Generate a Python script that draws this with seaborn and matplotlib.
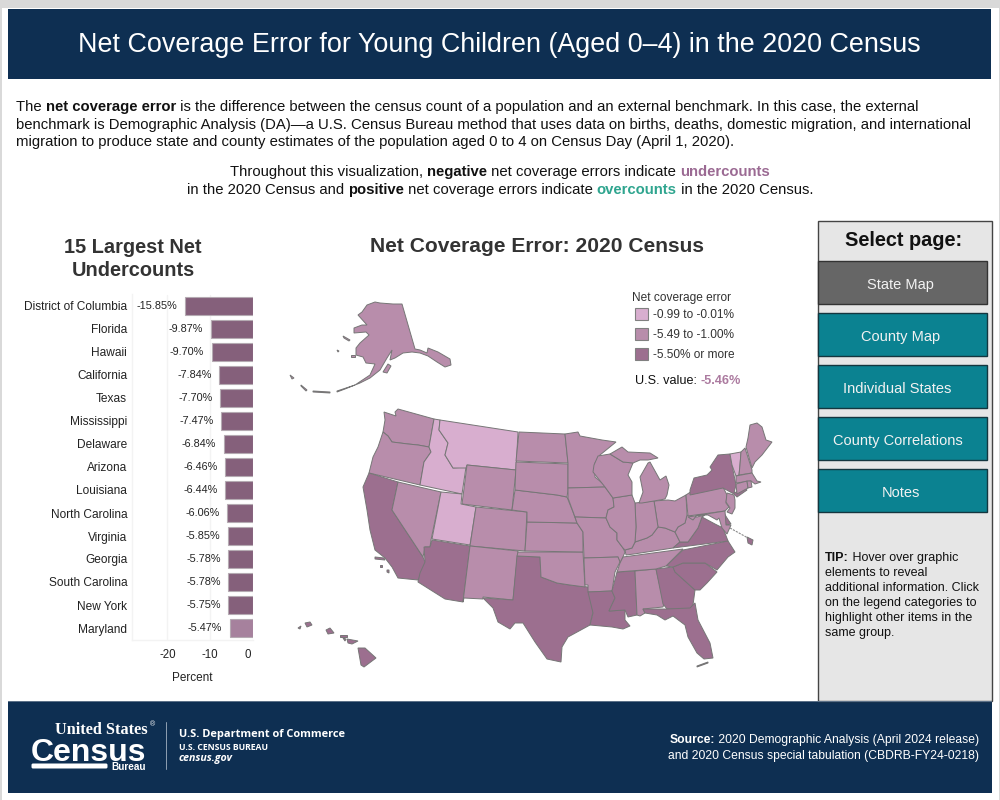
import numpy as np
import pandas as pd
import matplotlib
matplotlib.use("Agg")
import matplotlib.pyplot as plt
from matplotlib.patches import Rectangle, FancyBboxPatch
from matplotlib.transforms import ScaledTranslation
import seaborn as sns

## Bar chart data
bar_states = ['District of Columbia', 'Florida', 'Hawaii', 'California', 'Texas', 'Mississippi',
              'Delaware', 'Arizona', 'Louisiana', 'North Carolina', 'Virginia', 'Georgia',
              'South Carolina', 'New York', 'Maryland']
bar_values = [-15.85, -9.87, -9.70, -7.84, -7.70, -7.47, -6.84, -6.46, -6.44, -6.06, -5.85, -5.78,
              -5.78, -5.75, -5.47]
bar_groups = ['more'] * 14 + ['mid']
x_ticks = [-20, -10, 0]

## Legend data
legend_labels = ['-0.99 to -0.01%', '-5.49 to -1.00%', '-5.50% or more']
button_labels = ['State Map', 'County Map', 'Individual States', 'County Correlations', 'Notes']
tip_lines = ['elements to reveal', 'additional information. Click', 'on the legend categories to',
             'highlight other items in the', 'same group.']

## Map groups
light_states = ['ID', 'MT', 'UT', 'VT']
dark_states = ['CA', 'AZ', 'TX', 'LA', 'MS', 'GA', 'FL', 'SC', 'NC', 'VA', 'NY', 'DE', 'DC', 'HI']

## State outlines
WA = [(384,412),(393,415),(396,416),(395,412),(398,409),(434,419),(429,447),(418,445),(408,444),(400,443),(392,442),(388,436),(383,432),(385,420)]
OR = [(383,432),(388,436),(392,442),(400,443),(408,444),(418,445),(429,447),(431,452),(424,462),(420,485),(369,473),(373,457),(378,447)]
CA = [(369,473),(398,482),(392,510),(423,557),(425,562),(423,572),(418,580),(398,578),(392,567),(385,558),(375,550),(370,530),(367,510),(363,487)]
CA_IS_1 = [(375,557),(384,558),(385,560),(375,559)]
CA_IS_2 = [(380,565),(382,565),(382,567),(380,567)]
CA_IS_3 = [(387,570),(389,570),(389,573),(387,572)]
NV = [(398,482),(441,492),(431,540),(430,547),(425,547),(423,557),(392,510)]
ID = [(434,419),(440,420),(439,430),(448,443),(445,455),(453,468),(466,467),(462,494),(420,485),(424,462),(431,452),(429,447)]
MT = [(440,420),(518,432),(516,470),(467,465),(466,468),(453,468),(445,455),(448,443),(439,430)]
WY = [(467,465),(516,470),(512,510),(462,504)]
UT = [(441,492),(462,494),(461,504),(476,507),(470,545),(432,539)]
CO = [(476,507),(527,512),(525,551),(470,546)]
AZ = [(432,540),(470,546),(463,602),(445,599),(418,582),(420,573),(425,562),(424,547),(430,547)]
NM = [(470,546),(518,551),(513,600),(483,597),(483,599),(464,598),(463,602)]
TX = [(517,556),(540,557),(541,577),(557,583),(570,585),(588,587),(589,592),(593,612),(590,625),(568,637),(562,647),(561,662),
      (547,659),(535,642),(523,623),(515,623),(510,629),(498,622),(493,608),(483,598),(513,600)]
OK = [(518,552),(583,552),(585,587),(570,585),(557,583),(541,577),(540,557),(517,556)]
KS = [(527,522),(577,523),(583,532),(583,552),(525,551)]
NE = [(515,490),(557,495),(567,497),(573,512),(577,523),(527,522),(527,512),(512,510)]
SD = [(516,462),(568,464),(568,490),(567,497),(557,495),(515,490)]
ND = [(519,432),(565,434),(568,463),(516,461)]
MN = [(565,434),(578,432),(580,436),(602,440),(616,442),(600,455),(595,463),(595,477),(607,487),(568,488),(568,463)]
IA = [(568,488),(605,487),(613,498),(614,507),(608,510),(606,518),(575,517),(568,498)]
MO = [(575,517),(606,518),(610,527),(617,533),(617,540),(623,548),(625,552),(623,557),(620,563),(618,557),(584,558),(583,532),(577,523)]
AR = [(584,558),(618,557),(620,562),(615,572),(612,591),(588,592),(588,585),(585,585)]
LA = [(588,592),(612,591),(615,598),(609,611),(625,610),(625,620),(630,626),(623,629),(612,627),(590,625),(593,613)]
MS = [(617,572),(635,571),(637,615),(628,617),(625,610),(609,611),(615,598),(612,591)]
AL = [(635,571),(656,569),(664,604),(663,607),(643,609),(645,613),(640,616),(637,615)]
GA = [(656,569),(673,567),(675,572),(695,590),(693,605),(690,609),(667,609),(663,604)]
FL = [(643,609),(667,609),(690,608),(695,603),(698,620),(710,643),(713,658),(704,659),(697,653),(688,637),(685,625),(673,616),(665,620),(657,615),(645,613)]
FL_KEYS = [(697,666),(708,662),(708,663),(697,667)]
SC = [(673,567),(683,563),(705,563),(717,572),(707,583),(700,590),(695,590),(675,572)]
NC = [(683,550),(728,541),(735,552),(728,557),(717,570),(705,563),(683,563),(673,567),(666,566)]
TN = [(623,557),(683,549),(666,566),(656,569),(617,572),(620,563)]
KY = [(626,555),(625,550),(632,548),(635,542),(647,538),(652,535),(658,527),(665,528),(675,532),(680,542),(673,548),(634,554)]
VA = [(673,548),(680,542),(688,542),(698,528),(702,517),(715,524),(723,528),(728,541)]
WV = [(675,532),(678,527),(685,523),(687,515),(697,517),(705,515),(702,517),(698,528),(688,542),(680,542)]
OH = [(654,501),(668,500),(675,501),(686,495),(687,515),(685,523),(678,527),(675,532),(665,528),(658,527)]
IN = [(635,503),(654,501),(658,527),(652,535),(647,538),(635,542),(636,527)]
IL = [(613,498),(632,495),(635,503),(636,527),(635,542),(632,548),(625,550),(623,548),(617,540),(617,533),(610,527),(606,518),(608,510),(614,507)]
WI = [(594,465),(598,456),(610,454),(623,462),(633,463),(628,475),(632,482),(632,495),(613,498),(605,487),(593,472)]
MI_UP = [(610,454),(622,447),(628,452),(650,453),(658,458),(648,460),(640,460),(633,463),(623,462)]
MI_LOW = [(650,462),(660,480),(666,476),(669,485),(667,495),(665,499),(654,501),(642,503),(639,503),(643,492),(640,477),(648,463)]
PA = [(686,495),(692,491),(723,487),(727,495),(726,503),(729,507),(725,511),(688,516)]
NY = [(690,490),(694,478),(707,475),(712,470),(710,467),(718,455),(730,454),(732,465),(736,485),(734,493),(745,488),(747,490),(737,497),(734,494),(723,488),(690,495)]
VT = [(730,454),(741,452),(740,465),(739,475),(736,476),(732,465)]
NH = [(741,452),(745,448),(752,470),(752,473),(739,475),(740,465)]
ME = [(746,447),(748,438),(750,425),(757,423),(762,427),(766,440),(772,442),(762,455),(755,462),(752,468)]
MA = [(736,476),(752,473),(757,481),(761,482),(755,484),(751,481),(736,483)]
CT = [(736,484),(747,481),(748,488),(737,494)]
RI = [(747,481),(751,481),(752,487),(748,488)]
NJ = [(727,493),(734,495),(735,500),(735,508),(732,514),(727,512),(730,508),(726,502)]
DE = [(724,513),(727,518),(731,524),(726,525)]
MD = [(688,517),(725,511),(726,525),(731,525),(727,534),(722,528),(719,518),(717,520),(708,515),(697,515),(693,520)]
DC = [(747,537),(753,540),(752,545),(748,543)]
AK = [(375,302),(380,303),(393,304),(402,304),(415,349),(420,350),(427,353),(428,348),(438,352),(450,359),(451,365),(445,367),
      (437,362),(428,356),(420,353),(412,352),(403,353),(395,358),(390,360),(392,350),(387,358),(380,370),(370,378),(360,383),
      (355,385),(370,375),(375,364),(366,363),(363,357),(356,355),(356,348),(360,343),(369,335),(366,332),(354,333),(354,328),
      (362,325),(367,325),(358,315),(362,312),(367,305)]
AK_KODIAK = [(383,372),(388,364),(391,366),(387,373)]
AK_STLAWRENCE = [(343,336),(350,340),(349,341),(344,338)]
AK_NUNIVAK = [(351,355),(355,355),(355,357),(351,357)]
AK_PRIBILOF = [(337,350),(339,351),(338,352)]
AK_ALEUT_1 = [(337,391),(355,385),(345,389),(337,392)]
AK_ALEUT_2 = [(313,391),(330,392),(330,393),(313,392)]
AK_ALEUT_3 = [(301,385),(307,390),(306,391),(301,386)]
AK_ALEUT_4 = [(290,375),(294,378),(292,379)]
HI_BIG = [(358,648),(365,648),(376,658),(364,667),(361,665)]
HI_MAUI = [(347,639),(358,641),(352,644),(348,643)]
HI_MOLOKAI = [(340,635),(347,635),(347,637),(340,637)]
HI_LANAI = [(343,638),(346,639),(345,641)]
HI_OAHU = [(326,630),(330,628),(334,633),(328,634)]
HI_KAUAI = [(305,623),(310,622),(312,625),(307,627)]
HI_NIIHAU = [(298,628),(301,626),(300,629)]

state_shapes = {
    'WA': [WA], 'OR': [OR], 'CA': [CA, CA_IS_1, CA_IS_2, CA_IS_3], 'NV': [NV], 'ID': [ID], 'MT': [MT], 'WY': [WY],
    'UT': [UT], 'CO': [CO], 'AZ': [AZ], 'NM': [NM], 'TX': [TX], 'OK': [OK], 'KS': [KS], 'NE': [NE], 'SD': [SD],
    'ND': [ND], 'MN': [MN], 'IA': [IA], 'MO': [MO], 'AR': [AR], 'LA': [LA], 'MS': [MS], 'AL': [AL], 'GA': [GA],
    'FL': [FL, FL_KEYS], 'SC': [SC], 'NC': [NC], 'TN': [TN], 'KY': [KY], 'VA': [VA], 'WV': [WV], 'OH': [OH],
    'IN': [IN], 'IL': [IL], 'WI': [WI], 'MI': [MI_UP, MI_LOW], 'PA': [PA], 'NY': [NY], 'VT': [VT], 'NH': [NH],
    'ME': [ME], 'MA': [MA], 'CT': [CT], 'RI': [RI], 'NJ': [NJ], 'DE': [DE], 'MD': [MD], 'DC': [DC],
    'AK': [AK, AK_KODIAK, AK_STLAWRENCE, AK_NUNIVAK, AK_PRIBILOF, AK_ALEUT_1, AK_ALEUT_2, AK_ALEUT_3, AK_ALEUT_4],
    'HI': [HI_BIG, HI_MAUI, HI_MOLOKAI, HI_LANAI, HI_OAHU, HI_KAUAI, HI_NIIHAU],
}

## Colours
navy = '#0E2F52'
teal = '#0B8291'
bin_colors = sns.color_palette(['#D8AECF', '#B88DAB', '#9C6F8F'])

sns.set_theme(style='white')
plt.rcParams['font.family'] = ['Liberation Sans', 'DejaVu Sans']
plt.rcParams['text.color'] = '#222222'

fig = plt.figure(figsize=(10, 8), dpi=100, facecolor='white')

# canvas in picture pixels, y pointing down
canvas = fig.add_axes([0, 0, 1, 1])
canvas.set_xlim(0, 1000)
canvas.set_ylim(800, 0)
canvas.axis('off')


def box(x0, y0, x1, y1, color, edge='none', lw=0, z=1):
    canvas.add_patch(Rectangle((x0, y0), x1 - x0, y1 - y0, facecolor=color, edgecolor=edge, linewidth=lw, zorder=z))


def put(x, y, s, **kw):
    # y is the middle of the glyphs; va='center' sits a little high
    kw.setdefault('va', 'center')
    kw.setdefault('zorder', 5)
    return canvas.text(x, y + 1.5, s, **kw)


def rich_line(x, y, parts, size, ha='left'):
    # parts: (text, weight, colour); drawn one after the other
    renderer = fig.canvas.get_renderer()
    texts = []
    widths = []
    for s, weight, color in parts:
        t = put(x, y, s, fontsize=size, fontweight=weight, color=color, ha='left', va='baseline')
        texts.append(t)
        widths.append(t.get_window_extent(renderer).width)
    total = sum(widths)
    cur = x
    if ha == 'center':
        cur = x - total / 2
    if ha == 'right':
        cur = x - total
    for t, w in zip(texts, widths):
        t.set_x(cur)
        t.set_y(y + round(size * 0.5))
        cur += w


## page frame
box(0, 0, 1000, 8, '#D9D9D9')
box(0, 0, 1.5, 800, '#D9D9D9')
box(998.5, 0, 1000, 800, '#D9D9D9')
box(8, 9, 991, 79, navy)
box(8, 701, 992, 793, navy)
box(8, 701, 992, 702, '#5C7188', z=2)

put(499, 43.5, 'Net Coverage Error for Young Children (Aged 0\u20134) in the 2020 Census',
    fontsize=19.4, color='white', ha='center')

## intro text
ink = '#111111'
para_size = 10.68
rich_line(16, 106, [('The ', 'normal', ink), ('net coverage error', 'bold', ink),
                    (' is the difference between the census count of a population and an external benchmark. In this case, the external', 'normal', ink)], para_size)
rich_line(16, 124, [('benchmark is Demographic Analysis (DA)\u2014a U.S. Census Bureau method that uses data on births, deaths, domestic migration, and international', 'normal', ink)], para_size)
rich_line(16, 141, [('migration to produce state and county estimates of the population aged 0 to 4 on Census Day (April 1, 2020).', 'normal', ink)], para_size)
rich_line(500, 171, [('Throughout this visualization, ', 'normal', ink), ('negative', 'bold', ink),
                     (' net coverage errors indicate ', 'normal', ink), ('undercounts', 'bold', '#9B6A93')], para_size, ha='center')
rich_line(500, 189, [('in the 2020 Census and ', 'normal', ink), ('positive', 'bold', ink),
                     (' net coverage errors indicate ', 'normal', ink), ('overcounts', 'bold', '#2FA58F'),
                     (' in the 2020 Census.', 'normal', ink)], para_size, ha='center')

## bar chart
put(133, 246, '15 Largest Net', fontsize=14.4, fontweight='bold', color='#333333', ha='center')
put(133, 269, 'Undercounts', fontsize=14.4, fontweight='bold', color='#333333', ha='center')

bars = pd.DataFrame({'state': bar_states, 'value': bar_values, 'group': bar_groups})
bar_ax = fig.add_axes([132 / 1000, 1 - 639.5 / 800, 121 / 1000, 345 / 800])
bar_ax.patch.set_alpha(0)
sns.barplot(data=bars, y='state', x='value', hue='group', dodge=False, width=0.76,
            palette={'more': '#8B5A7E', 'mid': '#AC7BA0'}, edgecolor='#B5AAB2', linewidth=0.8,
            legend=False, ax=bar_ax)
bar_ax.set_xlim(-28.3, 0)
bar_ax.set_xticks(x_ticks)
bar_ax.set_xticklabels([str(v) for v in x_ticks])
bar_ax.tick_params(axis='x', length=0, pad=7, labelsize=8.3, labelcolor='#222222')
bar_ax.tick_params(axis='y', length=0, pad=3.5, labelsize=8.55, labelcolor='#222222')
bar_ax.set_xlabel('Percent', fontsize=8.5, color='#222222', labelpad=8)
bar_ax.set_ylabel('')
bar_ax.grid(axis='x', color='#F3F3F3', linewidth=1)
bar_ax.set_axisbelow(True)
for side in ['top', 'right']:
    bar_ax.spines[side].set_visible(False)
for side in ['left', 'bottom']:
    bar_ax.spines[side].set_color('#F3F3F3')
    bar_ax.spines[side].set_linewidth(1)
for container in bar_ax.containers:
    bar_ax.bar_label(container, fmt='%.2f%%', padding=5.5, fontsize=7.8, color='#222222')
zero_label = bar_ax.get_xticklabels()[-1]
zero_label.set_transform(zero_label.get_transform() + ScaledTranslation(-3.6 / 72, 0, fig.dpi_scale_trans))

## map
put(537, 245, 'Net Coverage Error: 2020 Census', fontsize=15.1, fontweight='bold', color='#333333', ha='center')
for state, polys in state_shapes.items():
    color = bin_colors[1]
    if state in light_states:
        color = bin_colors[0]
    if state in dark_states:
        color = bin_colors[2]
    for poly in polys:
        xy = np.array(poly)
        canvas.fill(xy[:, 0], xy[:, 1], facecolor=color, edgecolor='#767676', linewidth=0.7, zorder=3)
canvas.plot([730, 748], [528, 538], color='#8A8A8A', linewidth=0.8, linestyle=(0, (2, 1)), zorder=2)

## legend
put(632, 297, 'Net coverage error', fontsize=8.6, color='#333333')
for i, label in enumerate(legend_labels):
    box(635, 308 + 20 * i, 647.5, 320 + 20 * i, bin_colors[i], edge='#808080', lw=0.8)
    put(653, 313 + 20 * i, label, fontsize=8.6, color='#333333')
rich_line(635, 379.5, [('U.S. value: ', 'normal', ink), ('-5.46%', 'bold', '#AC7BA0')], 9.1)

## side panel
box(817.5, 221, 991.5, 701, '#E6E6E6', edge='#444444', lw=1)
put(903.5, 239, 'Select page:', fontsize=14.3, fontweight='bold', color='#111111', ha='center')
button_tops = [261, 313, 365, 417, 469]
button_text_x = [900, 901, 897, 898, 901]
for i, label in enumerate(button_labels):
    color = '#666666' if i == 0 else teal
    edge = '#333333' if i == 0 else '#14363F'
    box(818, button_tops[i], 986.5, button_tops[i] + 43, color, edge=edge, lw=1, z=3)
    put(button_text_x[i], button_tops[i] + 22.5, label, fontsize=10.5, color='#F2F2F2', ha='center')

rich_line(825, 557, [('TIP:', 'bold', ink), (' Hover over graphic', 'normal', ink)], 9.0)
for i, line in enumerate(tip_lines):
    put(825, 571.7 + 14.9 * i, line, fontsize=9.0, color=ink)

## footer
put(101, 729, 'United States', fontsize=11.7, family=['Liberation Serif', 'DejaVu Serif'], fontweight='bold',
    color='white', ha='center')
put(150, 723, '\u00ae', fontsize=5, color='white', ha='left')
canvas.text(88.5, 761, 'Census', fontsize=23, fontweight='bold', color='white', ha='center', va='baseline', zorder=5)
canvas.add_patch(FancyBboxPatch((33, 765), 73, 2, boxstyle='round,pad=1.5', facecolor='white', edgecolor='none', zorder=5))
put(129, 766, 'Bureau', fontsize=7.2, fontweight='bold', color='white', ha='center')
canvas.plot([165.5, 165.5], [722, 769], color='#8FA0B3', linewidth=0.7, zorder=5)
put(179, 732.5, 'U.S. Department of Commerce', fontsize=7.9, family='Open Sans', fontweight='bold', color='white')
put(179, 745.5, 'U.S. CENSUS BUREAU', fontsize=6.2, family='Open Sans', fontweight='bold', color='white')
put(179, 757.5, 'census.gov', fontsize=7.7, family='Open Sans', fontweight='bold', style='italic', color='white')

rich_line(979, 739, [('Source:', 'bold', 'white'), (' 2020 Demographic Analysis (April 2024 release)', 'normal', 'white')], 8.7, ha='right')
put(979, 754, 'and 2020 Census special tabulation (CBDRB-FY24-0218)', fontsize=8.7, color='white', ha='right')

plt.savefig('out.png', dpi=100, facecolor='white')
